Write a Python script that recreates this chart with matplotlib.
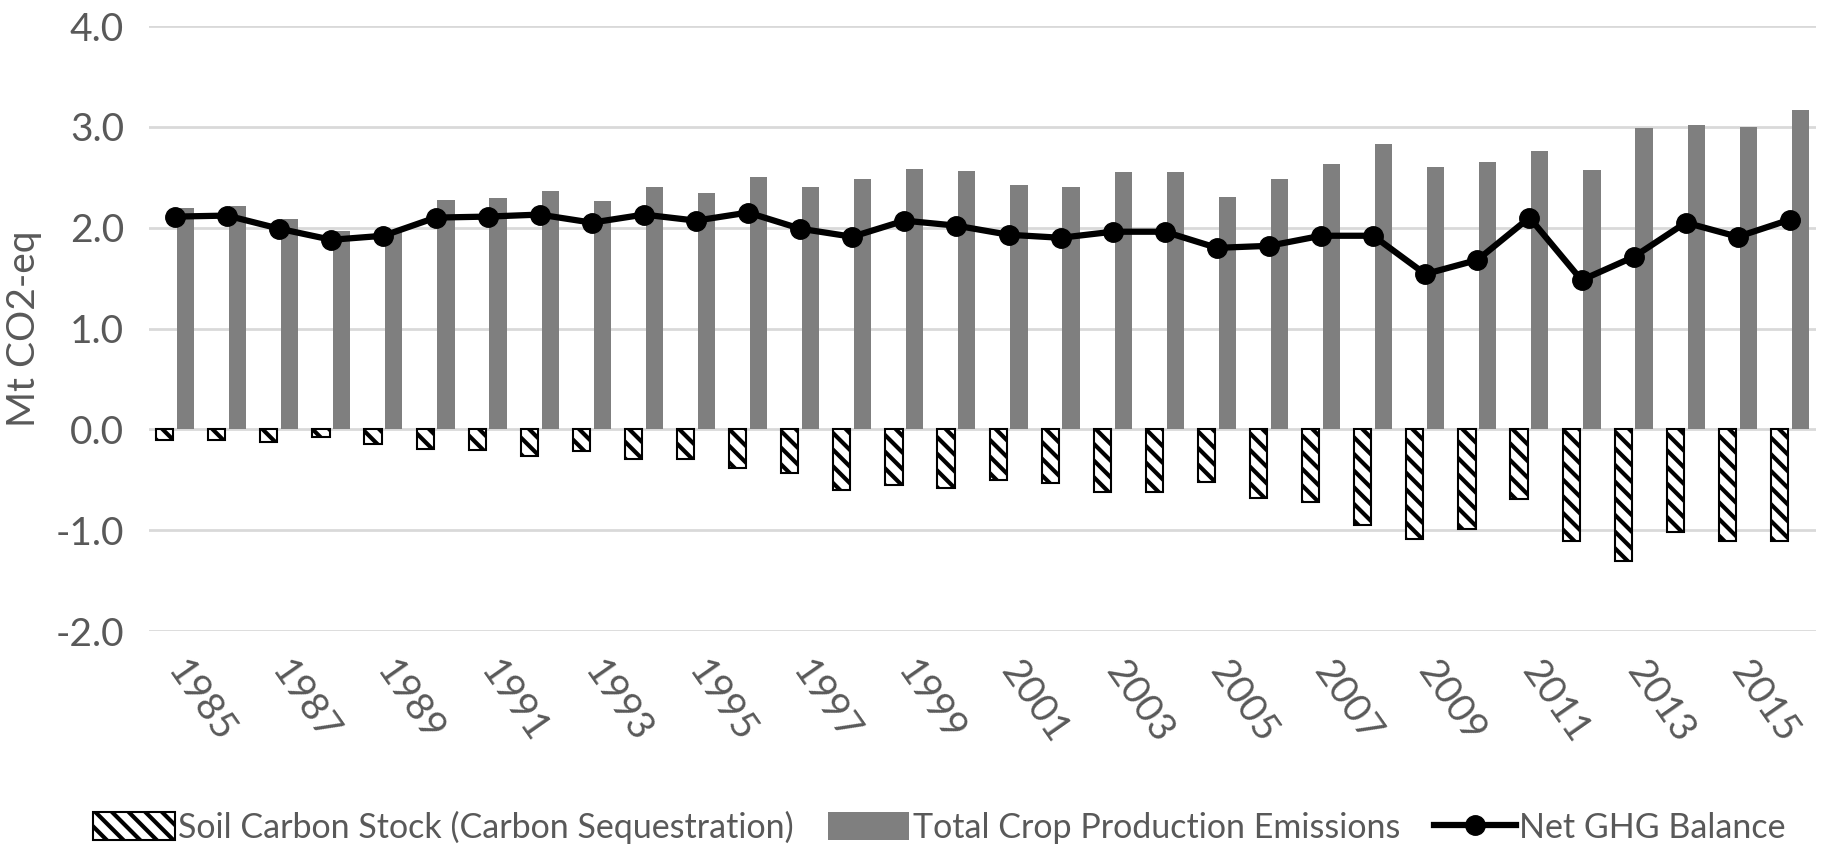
import numpy as np
import matplotlib.pyplot as plt
from matplotlib.ticker import FormatStrFormatter

plt.rcParams['font.family'] = ['Lato', 'DejaVu Sans']
plt.rcParams['axes.unicode_minus'] = False
plt.rcParams['hatch.linewidth'] = 3

# values (Mt CO2-eq)
years = list(range(1985, 2017))
soil_carbon = [-0.11, -0.11, -0.13, -0.08, -0.15, -0.19, -0.20, -0.26, -0.21,
               -0.29, -0.29, -0.38, -0.43, -0.60, -0.55, -0.58, -0.50, -0.53,
               -0.62, -0.62, -0.52, -0.68, -0.72, -0.95, -1.09, -0.99, -0.69,
               -1.11, -1.31, -1.02, -1.11, -1.11]
crop_emissions = [2.20, 2.22, 2.09, 1.97, 1.96, 2.27, 2.29, 2.36, 2.26,
                  2.40, 2.34, 2.50, 2.40, 2.48, 2.58, 2.56, 2.42, 2.40,
                  2.55, 2.55, 2.30, 2.48, 2.63, 2.83, 2.60, 2.65, 2.76,
                  2.57, 2.99, 3.02, 3.00, 3.17]
net_balance = [2.11, 2.12, 1.99, 1.88, 1.92, 2.10, 2.11, 2.13, 2.05,
               2.13, 2.07, 2.15, 1.99, 1.91, 2.07, 2.02, 1.93, 1.90,
               1.96, 1.96, 1.80, 1.82, 1.92, 1.92, 1.54, 1.68, 2.10,
               1.48, 1.71, 2.05, 1.91, 2.08]

x = np.arange(len(years))
w = 0.33

fig = plt.figure(figsize=(18.24, 8.5), dpi=100)
ax = fig.add_axes([0.0817, 0.2576, 0.9139, 0.7118])

h_soil = ax.bar(x - 0.2, soil_carbon, w, color='white', edgecolor='black',
                linewidth=1.5, hatch='\\\\', zorder=2)
h_crop = ax.bar(x + 0.2, crop_emissions, w, color='#7f7f7f', zorder=2)
h_net, = ax.plot(x, net_balance, color='black', linewidth=4.5, marker='o',
                 markersize=14, zorder=3)

ax.set_xlim(-0.5, len(years) - 0.5)
ax.set_ylim(-2, 4)
ax.set_yticks(np.arange(-2, 4.1, 1))
ax.yaxis.set_major_formatter(FormatStrFormatter('%.1f'))
ax.set_xticks(x[::2])
ax.set_xticklabels([str(y) for y in years[::2]], rotation=-55,
                   ha='left', va='center', rotation_mode='anchor')

ax.grid(axis='y', color='#d9d9d9', linewidth=2, zorder=0)
for s in ax.spines.values():
    s.set_visible(False)
ax.tick_params(axis='both', length=0, labelsize=28, labelcolor='#595959')
ax.tick_params(axis='x', pad=24)
ax.tick_params(axis='y', pad=18)
ax.set_ylabel('Mt CO2-eq', fontsize=28, color='#595959', labelpad=10)

fig.legend([h_soil, h_crop, h_net],
           ['Soil Carbon Stock (Carbon Sequestration)',
            'Total Crop Production Emissions', 'Net GHG Balance'],
           loc='center', bbox_to_anchor=(0.515, 0.027), ncol=3, frameon=False,
           fontsize=24.5, handlelength=2.4, handleheight=0.9, handletextpad=0.1,
           columnspacing=1.0, labelcolor='#595959')

fig.savefig('out.png', dpi=100)
